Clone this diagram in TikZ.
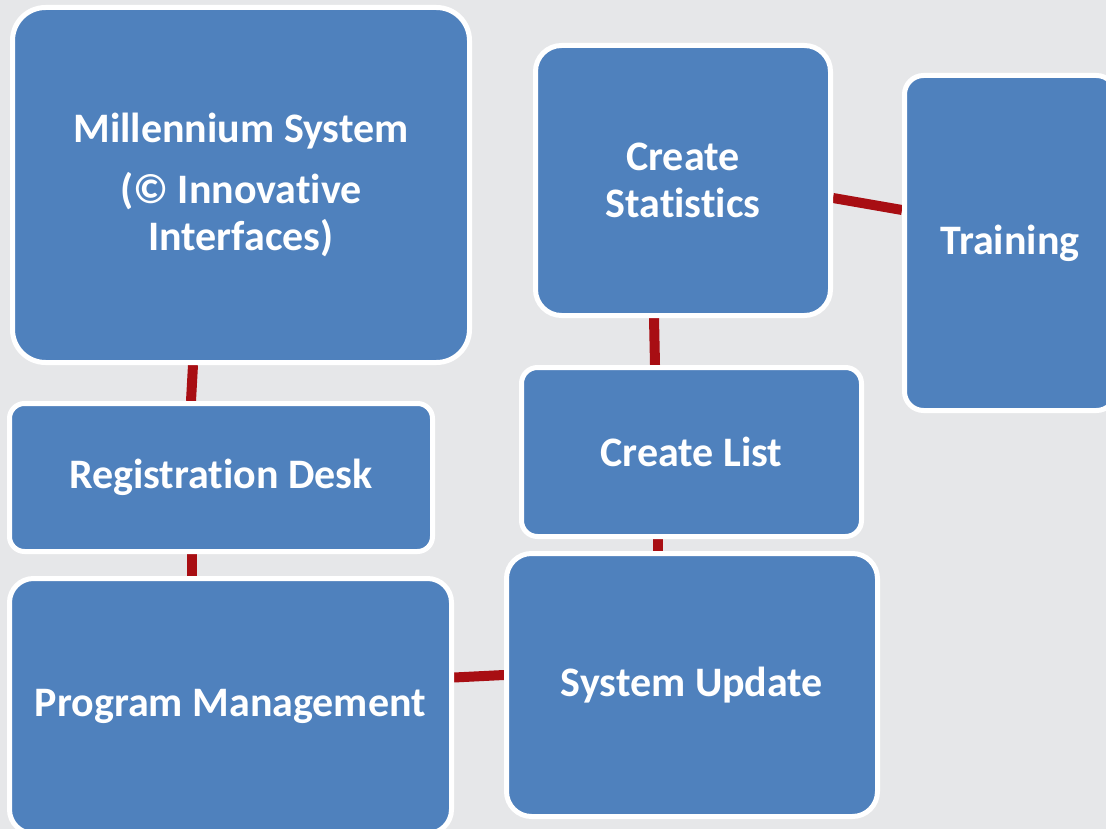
\documentclass[tikz,border=0pt]{standalone}
\usepackage{fontspec}
\setmainfont[Ligatures=NoCommon]{Carlito}
\usetikzlibrary{backgrounds}
\definecolor{bg}{HTML}{E6E7E9}
\definecolor{boxblue}{HTML}{4F81BD}
\definecolor{linkred}{HTML}{A80E13}
\begin{document}
\begin{tikzpicture}[x=1pt,y=-1pt,
  box/.style={draw=white, line width=5pt, fill=boxblue, text=white,
    font=\bfseries\fontsize{42}{47}\selectfont, align=center, inner sep=0pt},
  link/.style={draw=linkred, line width=10pt}]
\useasboundingbox (0,0) rectangle (1106,829);
\begin{pgfonlayer}{background}
  \fill[bg] (0,0) rectangle (1106,829);
\end{pgfonlayer}
\begin{scope}
\clip (0,0) rectangle (1106,829);
\node[box, minimum width=457pt, minimum height=355pt, rounded corners=33pt] (m) at (241,185)
  {Millennium System\\[14pt](© Innovative\\Interfaces)};
\node[box, minimum width=295pt, minimum height=270pt, rounded corners=26pt] (s) at (683,180.5)
  {Create\\Statistics};
\node[box, minimum width=211pt, minimum height=335pt, rounded corners=19pt] (t) at (1010,243)
  {Training};
\node[box, minimum width=340pt, minimum height=169pt, rounded corners=16pt] (l) at (691.5,452)
  {Create List};
\node[box, minimum width=423pt, minimum height=148pt, rounded corners=15pt] (r) at (221,477.5)
  {Registration Desk};
\node[box, minimum width=442pt, minimum height=255pt, rounded corners=24pt] (p) at (230.5,706)
  {Program Management};
\node[box, minimum width=371pt, minimum height=263pt, rounded corners=25pt] (u) at (692,685)
  {System Update};
\end{scope}
\begin{pgfonlayer}{background}
  \draw[link] ([xshift=-48pt]m.south) -- ([xshift=-30pt]r.north);
  \draw[link] ([xshift=-29.5pt]r.south) -- ([xshift=-39pt]p.north);
  \draw[link] ([yshift=28.5pt]p.east) -- ([yshift=10pt]u.west);
  \draw[link] ([xshift=-34pt]l.south) -- ([xshift=-34.5pt]u.north);
  \draw[link] ([xshift=-29pt]s.south) -- ([xshift=-36.5pt]l.north);
  \draw[link] ([yshift=-17.5pt]s.east) -- ([yshift=33pt]t.west);
\end{pgfonlayer}
\end{tikzpicture}
\end{document}
